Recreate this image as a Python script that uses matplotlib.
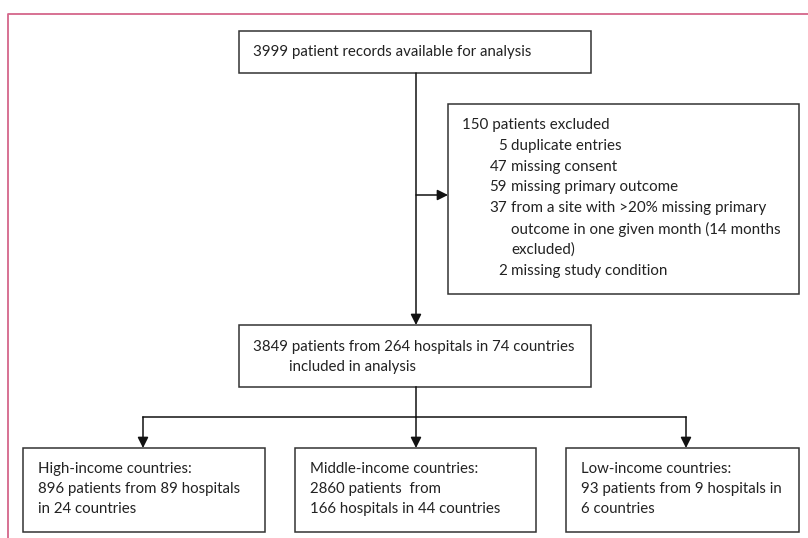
import matplotlib
matplotlib.use("Agg")
import matplotlib.pyplot as plt
from matplotlib.patches import Rectangle

# texts of the flowchart
top_text = "3999 patient records available for analysis"
excl_head = "150 patients excluded"
excl_counts = ["5", "47", "59", "37", "", "", "2"]
excl_reasons = ["duplicate entries", "missing consent", "missing primary outcome",
                "from a site with >20% missing primary",
                "outcome in one given month (14 months",
                "excluded)", "missing study condition"]
mid_lines = ["3849 patients from 264 hospitals in 74 countries", "included in analysis"]
group_titles = ["High-income countries:", "Middle-income countries:", "Low-income countries:"]
group_lines = [["896 patients from 89 hospitals", "in 24 countries"],
               ["2860 patients  from", "166 hospitals in 44 countries"],
               ["93 patients from 9 hospitals in", "6 countries"]]

font = "Lato"
tc = "#222222"

fig = plt.figure(figsize=(8.08, 5.38), dpi=100)
ax = fig.add_axes([0, 0, 1, 1])
ax.set_xlim(0, 808)
ax.set_ylim(538, 0)
ax.axis("off")

ec = "#333333"
lw = 1.1

def box(x0, y0, x1, y1):
    ax.add_patch(Rectangle((x0, y0), x1 - x0, y1 - y0, fill=False, ec=ec, lw=lw))

def arrow(x0, y0, x1, y1):
    ax.annotate("", xy=(x1, y1), xytext=(x0, y0),
                arrowprops=dict(arrowstyle="-|>", color="#111111", lw=lw,
                                mutation_scale=16, shrinkA=0, shrinkB=0))

# pink frame
ax.plot([8, 8, 808], [538, 14, 14], color="#d4668a", lw=1.3, solid_capstyle="butt")

# top box
box(239, 31, 591, 73)
ax.text(253, 52, top_text, family=font, fontsize=10.8, va="center", color=tc)

# main vertical + side arrow
arrow(416, 73, 416, 325)
arrow(416, 195, 448, 195)

# exclusion box
box(448, 104, 799, 294)
ys = [125 + 20.8 * i for i in range(8)]
ax.text(462, ys[0], excl_head, family=font, fontsize=10.9, va="center", color=tc)
for i, (n, r) in enumerate(zip(excl_counts, excl_reasons)):
    ax.text(507, ys[i + 1], n, family=font, fontsize=10.9, va="center", ha="right", color=tc)
    ax.text(511, ys[i + 1], r, family=font, fontsize=10.9, va="center", color=tc)

# middle box
box(239, 325, 591, 387)
ax.text(253, 347, mid_lines[0], family=font, fontsize=10.8, va="center", color=tc)
ax.text(289, 367, mid_lines[1], family=font, fontsize=10.8, va="center", color=tc)

# branches
ax.plot([416, 416], [387, 417], color="#111111", lw=lw)
ax.plot([143, 686], [417, 417], color="#111111", lw=lw)
bx = [(23, 265), (295, 536), (566, 799)]
ax_x = [143, 416, 686]
for i, (x0, x1) in enumerate(bx):
    arrow(ax_x[i], 417, ax_x[i], 448)
    box(x0, 448, x1, 532)
    lines = [group_titles[i]] + group_lines[i]
    for j, t in enumerate(lines):
        ax.text(x0 + 15, 469 + 20 * j, t, family=font, fontsize=10.8, va="center", color=tc)

fig.savefig("out.png", dpi=100)
